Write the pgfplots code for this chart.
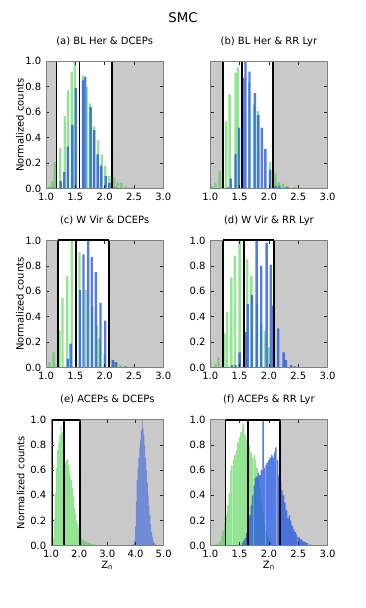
\documentclass[border=0pt]{standalone}
\usepackage{fontspec}
\setmainfont{DejaVu Sans}
\usepackage{pgfplots}
\pgfplotsset{compat=1.18}
\definecolor{bgGray}{HTML}{C9C9C9}
\definecolor{axGray}{HTML}{808080}
\definecolor{grn}{HTML}{3ACF3A}
\definecolor{blu}{HTML}{2A5BE0}

\pgfplotsset{
  smc/.style={
    scale only axis, width=88pt, height=95.5pt,
    xmin=1, xmax=3, ymin=0, ymax=1,
    xtick={1,1.5,2,2.5,3}, ytick={0,0.2,0.4,0.6,0.8,1},
    tick align=inside, major tick length=2.5pt,
    every tick/.style={black!85, line width=0.5pt},
    axis line style={draw=axGray, line width=0.6pt},
    ticklabel style={font=\fontsize{7.5}{9}\selectfont,
      /pgf/number format/.cd, fixed, fixed zerofill, precision=1,
      assume math mode=true},
    title style={font=\fontsize{7.5}{9}\selectfont, at={(0.5,1)}, anchor=center, yshift=9pt},
    label style={font=\fontsize{7.5}{9}\selectfont},
    ylabel style={at={(axis description cs:-0.222,0.5)}, anchor=center},
    xlabel style={at={(axis description cs:0.5,0)}, anchor=center, yshift=-14.5pt},
    clip=false, axis on top,
  },
  shade/.style={fill=bgGray, draw=none},
  gbar/.style={ybar, bar shift=0pt, draw=none, fill=grn, fill opacity=0.55},
  bbar/.style={ybar, bar shift=0pt, draw=none, fill=blu, fill opacity=0.8},
  cut/.style={black, line width=1.4pt},
  topcut/.style 2 args={after end axis/.append code={
      \draw[black, line width=1.4pt] (axis cs:#1,1) -- (axis cs:#2,1);}},
}

\begin{document}
\begin{tikzpicture}
\useasboundingbox (0,0) rectangle (273.75pt,456pt);
\node[font=\fontsize{10}{12}\selectfont] at (137.25pt,442.5pt) {SMC};

% (a)
\begin{axis}[smc, at={(34.5pt,314.5pt)}, anchor=south west,
  title={(a) BL Her \& DCEPs}, ylabel={Normalized counts}]
\addplot[shade] coordinates {(1,0)(1,1)(1.18,1)(1.18,0)} -- cycle;
\addplot[shade] coordinates {(2.13,0)(2.13,1)(3,1)(3,0)} -- cycle;
\addplot[gbar, bar width=0.04] coordinates {(1.06,0.02)(1.11,0.06)(1.15,0.21)(1.24,0.32)(1.32,0.57)(1.38,0.77)(1.44,0.92)(1.49,1.0)(1.63,0.89)(1.70,0.80)(1.75,0.67)(1.82,0.49)(1.89,0.38)(1.95,0.27)(2.01,0.18)(2.08,0.10)(2.16,0.09)(2.22,0.05)(2.28,0.045)(2.36,0.02)(2.48,0.01)(2.58,0.005)};
\addplot[bbar, bar width=0.04] coordinates {(1.12,0.01)(1.25,0.06)(1.31,0.13)(1.37,0.33)(1.45,0.50)(1.51,0.79)(1.63,0.85)(1.67,0.88)(1.76,0.64)(1.82,0.46)(1.88,0.27)(1.94,0.18)(2.02,0.10)(2.08,0.045)(2.18,0.01)};
\addplot[cut] coordinates {(1.18,0)(1.18,1)};
\addplot[cut] coordinates {(1.57,0)(1.57,1)};
\addplot[cut] coordinates {(2.13,0)(2.13,1)};
\end{axis}

% (b)
\begin{axis}[smc, at={(157.7pt,314.5pt)}, anchor=south west,
  title={(b) BL Her \& RR Lyr}, yticklabels={}]
\addplot[shade] coordinates {(1,0)(1,1)(1.22,1)(1.22,0)} -- cycle;
\addplot[shade] coordinates {(2.07,0)(2.07,1)(3,1)(3,0)} -- cycle;
\addplot[gbar, bar width=0.04] coordinates {(1.03,0.02)(1.09,0.045)(1.16,0.14)(1.27,0.53)(1.33,0.74)(1.43,0.91)(1.47,0.95)(1.66,0.83)(1.74,0.66)(1.81,0.61)(2.02,0.21)(2.11,0.12)(2.17,0.05)(2.24,0.04)(2.33,0.02)(2.43,0.015)(2.50,0.01)};
\addplot[bbar, bar width=0.04] coordinates {(1.30,0.01)(1.35,0.08)(1.43,0.27)(1.49,0.48)(1.56,0.87)(1.60,1.0)(1.67,0.92)(1.76,0.75)(1.82,0.58)(1.88,0.48)(1.94,0.31)(2.02,0.15)(2.12,0.02)(2.18,0.02)(2.30,0.015)};
\addplot[cut] coordinates {(1.22,0)(1.22,1)};
\addplot[cut] coordinates {(1.54,0)(1.54,1)};
\addplot[cut] coordinates {(2.07,0)(2.07,1)};
\end{axis}

% (c)
\begin{axis}[smc, at={(34.5pt,180.2pt)}, anchor=south west,
  title={(c) W Vir \& DCEPs}, ylabel={Normalized counts}, topcut={1.20}{2.08}]
\addplot[shade] coordinates {(1,0)(1,1)(1.20,1)(1.20,0)} -- cycle;
\addplot[shade] coordinates {(2.08,0)(2.08,1)(3,1)(3,0)} -- cycle;
\addplot[gbar, bar width=0.04] coordinates {(1.06,0.045)(1.13,0.12)(1.23,0.29)(1.28,0.55)(1.36,0.72)(1.44,1.0)(1.57,0.91)(1.68,0.61)(1.79,0.48)(1.87,0.33)(1.91,0.23)(2.0,0.11)(2.14,0.06)(2.21,0.04)(2.27,0.02)(2.34,0.01)(2.5,0.005)};
\addplot[bbar, bar width=0.04] coordinates {(1.37,0.07)(1.42,0.19)(1.58,0.61)(1.64,0.89)(1.72,1.0)(1.78,0.87)(1.85,0.75)(1.93,0.51)(2.01,0.37)(2.14,0.06)(2.19,0.045)(2.36,0.01)};
\addplot[cut] coordinates {(1.20,0)(1.20,1)};
\addplot[cut] coordinates {(1.51,0)(1.51,1)};
\addplot[cut] coordinates {(2.08,0)(2.08,1)};
\end{axis}

% (d)
\begin{axis}[smc, at={(157.7pt,180.2pt)}, anchor=south west,
  title={(d) W Vir \& RR Lyr}, topcut={1.22}{2.09}]
\addplot[shade] coordinates {(1,0)(1,1)(1.22,1)(1.22,0)} -- cycle;
\addplot[shade] coordinates {(2.09,0)(2.09,1)(3,1)(3,0)} -- cycle;
\addplot[gbar, bar width=0.04] coordinates {(1.09,0.026)(1.14,0.08)(1.24,0.27)(1.29,0.44)(1.36,0.71)(1.42,0.88)(1.50,1.0)(1.63,0.85)(1.70,0.72)(1.80,0.50)(1.87,0.34)(1.93,0.29)(2.0,0.16)(2.38,0.01)};
\addplot[bbar, bar width=0.04] coordinates {(1.37,0.02)(1.43,0.02)(1.50,0.12)(1.60,0.28)(1.64,0.50)(1.71,0.57)(1.79,1.0)(1.87,0.80)(1.96,0.98)(2.03,0.81)(2.06,0.49)(2.16,0.31)(2.25,0.12)(2.29,0.06)(2.38,0.02)(2.44,0.01)};
\addplot[cut] coordinates {(1.22,0)(1.22,1)};
\addplot[cut] coordinates {(1.58,0)(1.58,1)};
\addplot[cut] coordinates {(2.09,0)(2.09,1)};
\end{axis}

% (e)
\begin{axis}[smc, at={(38.25pt,46.7pt)}, anchor=south west,
  width=84.5pt, height=94.5pt, xmax=5, xtick={1,2,3,4,5},
  ylabel style={at={(axis description cs:-0.269,0.5)}},
  title={(e) ACEPs \& DCEPs}, ylabel={Normalized counts}, xlabel={Z\textsubscript{n}},
  topcut={1.05}{2.02}]
\addplot[shade] coordinates {(1,0)(1,1)(1.05,1)(1.05,0)} -- cycle;
\addplot[shade] coordinates {(2.02,0)(2.02,1)(5,1)(5,0)} -- cycle;
\addplot[gbar, bar width=0.04] coordinates {(1.04,0.02)(1.08,0.06)(1.12,0.22)(1.16,0.42)(1.20,0.62)(1.24,0.76)(1.28,0.82)(1.32,0.88)(1.36,0.96)(1.40,0.90)(1.44,0.80)(1.48,0.72)(1.52,0.66)(1.56,0.68)(1.60,0.69)(1.64,0.64)(1.68,0.57)(1.72,0.52)(1.76,0.46)(1.80,0.39)(1.84,0.30)(1.88,0.25)(1.92,0.20)(1.96,0.17)(2.00,0.13)(2.04,0.09)(2.08,0.06)(2.12,0.05)(2.16,0.04)(2.20,0.04)(2.24,0.03)(2.28,0.03)(2.32,0.02)(2.36,0.02)(2.40,0.015)(2.44,0.01)(2.50,0.01)(2.56,0.008)(2.62,0.005)(2.68,0.005)};
\addplot[bbar, bar width=0.032, fill opacity=0.55] coordinates {(3.92,0.01)(3.96,0.04)(4.00,0.15)(4.03,0.35)(4.06,0.52)(4.09,0.62)(4.12,0.70)(4.15,0.78)(4.18,0.84)(4.21,0.92)(4.24,1.0)(4.27,0.93)(4.30,0.88)(4.33,0.80)(4.36,0.70)(4.39,0.60)(4.42,0.50)(4.45,0.40)(4.48,0.32)(4.51,0.24)(4.54,0.17)(4.57,0.11)(4.60,0.07)(4.64,0.04)(4.68,0.02)(4.72,0.01)};
\addplot[cut] coordinates {(1.05,0)(1.05,1)};
\addplot[cut] coordinates {(1.45,0)(1.45,1)};
\addplot[cut] coordinates {(2.02,0)(2.02,1)};
\end{axis}

% (f)
\begin{axis}[smc, at={(157.7pt,46.7pt)}, anchor=south west,
  height=94.5pt, title={(f) ACEPs \& RR Lyr}, xlabel={Z\textsubscript{n}},
  topcut={1.26}{2.19}]
\addplot[shade] coordinates {(1,0)(1,1)(1.26,1)(1.26,0)} -- cycle;
\addplot[shade] coordinates {(2.19,0)(2.19,1)(3,1)(3,0)} -- cycle;
\addplot[gbar, bar width=0.025] coordinates {(1.10,0.01)(1.14,0.02)(1.17,0.04)(1.20,0.08)(1.22,0.12)(1.25,0.18)(1.27,0.25)(1.30,0.32)(1.32,0.42)(1.35,0.60)(1.37,0.64)(1.40,0.68)(1.42,0.72)(1.45,0.76)(1.47,0.82)(1.50,0.86)(1.52,0.90)(1.55,0.95)(1.57,0.97)(1.60,0.88)(1.62,0.84)(1.65,0.80)(1.67,0.79)(1.70,0.74)(1.72,0.70)(1.75,0.72)(1.77,0.68)(1.80,0.62)(1.82,0.54)(1.85,0.45)(1.87,0.35)(1.90,0.26)(1.92,0.18)(1.95,0.12)(1.97,0.08)(2.00,0.05)(2.02,0.03)(2.05,0.02)(2.10,0.01)};
\addplot[bbar, bar width=0.025] coordinates {(1.55,0.02)(1.57,0.04)(1.60,0.06)(1.62,0.10)(1.65,0.16)(1.67,0.24)(1.70,0.32)(1.72,0.40)(1.75,0.48)(1.77,0.54)(1.80,0.55)(1.82,0.58)(1.85,0.56)(1.87,0.60)(1.90,1.0)(1.92,0.62)(1.95,0.64)(1.97,0.66)(2.00,0.68)(2.02,0.70)(2.05,0.72)(2.07,0.70)(2.10,0.74)(2.12,0.78)(2.15,0.68)(2.17,0.56)(2.20,0.50)(2.22,0.44)(2.25,0.40)(2.27,0.34)(2.30,0.28)(2.32,0.22)(2.35,0.24)(2.37,0.20)(2.40,0.16)(2.42,0.13)(2.45,0.11)(2.47,0.09)(2.50,0.07)(2.52,0.06)(2.55,0.05)(2.57,0.04)(2.60,0.03)(2.62,0.03)(2.65,0.02)(2.70,0.01)};
\addplot[cut] coordinates {(1.26,0)(1.26,1)};
\addplot[cut] coordinates {(1.64,0)(1.64,1)};
\addplot[cut] coordinates {(2.19,0)(2.19,1)};
\end{axis}
\end{tikzpicture}
\end{document}
